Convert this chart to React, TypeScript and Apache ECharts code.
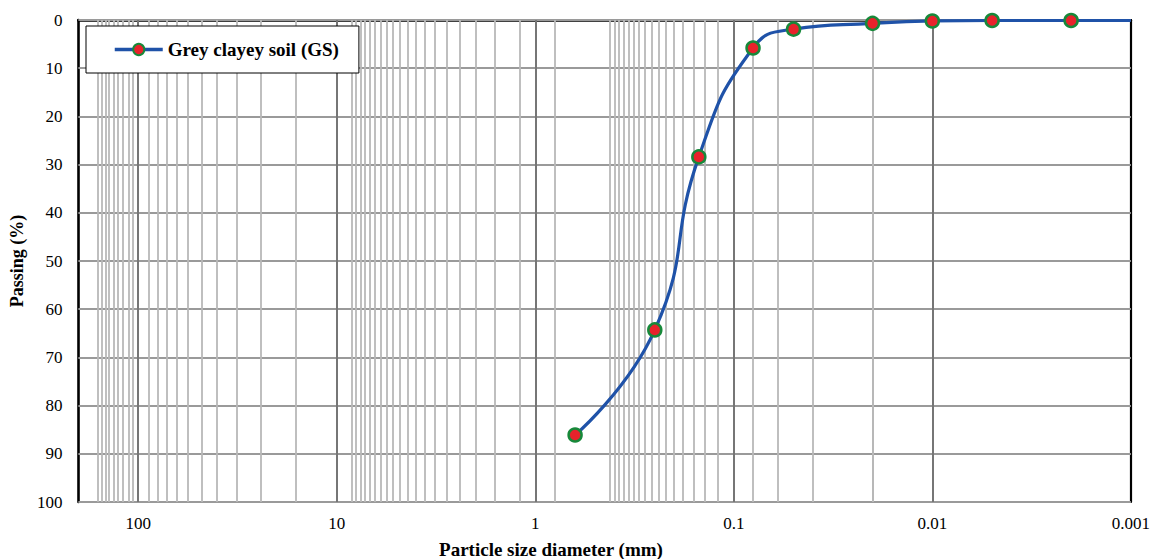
import React, { useEffect, useRef } from "react";
import * as echarts from "echarts";

// ---- data ----
const seriesName = "Grey clayey soil (GS)";
const particleSize = [0.63, 0.25, 0.15, 0.08, 0.05, 0.02, 0.01, 0.005, 0.002, 0.001];
const passing = [86.1, 64.3, 28.4, 5.8, 1.9, 0.7, 0.2, 0.1, 0.1, 0.1];
const markerShown = [true, true, true, true, true, true, true, true, true, false];

const xTickExponents = [-3, -2, -1, 0, 1, 2];
const xTickLabels = ["0.001", "0.01", "0.1", "1", "10", "100"];
const yTicks = [0, 10, 20, 30, 40, 50, 60, 70, 80, 90, 100];

// vertical gridlines (mm) as printed on the reference graph paper
const majorGridX = [100, 10, 1, 0.1, 0.01];
const minorGridX = [
  106, 112, 119, 126, 132, 140, 146, 153, 160,
  16, 24, 32, 40, 48, 56, 64, 72, 80, 88,
  1.2, 1.6, 2.0, 2.4, 2.8, 3.2, 3.6, 4.0, 4.4, 4.8, 5.2, 5.6, 6.0, 6.4, 6.8, 7.2, 7.6, 8.0, 8.4,
  0.8, 0.12, 0.14, 0.16, 0.18, 0.2, 0.22, 0.24, 0.26, 0.28, 0.3, 0.32, 0.34, 0.36, 0.38, 0.4, 0.42,
  0.08, 0.06, 0.04, 0.02, 0.019, 0.018, 0.017, 0.016, 0.015, 0.014, 0.013, 0.012, 0.011,
  0.009, 0.008, 0.007, 0.006, 0.005, 0.004, 0.003, 0.002,
];

const FONT = "'Liberation Serif', 'Times New Roman', serif";

export default function App() {
  const ref = useRef<HTMLDivElement>(null);

  useEffect(() => {
    if (!ref.current) return;
    const chart = echarts.init(ref.current, undefined, { renderer: "svg" });

    const gridLines: any[] = [];
    yTicks.forEach((v) =>
      gridLines.push({ yAxis: v, lineStyle: { color: "#9a9a9a", width: 2, type: "solid" } })
    );
    minorGridX.forEach((v) =>
      gridLines.push({ xAxis: v, lineStyle: { color: "#b8b8b8", width: 1.8, type: "solid" } })
    );
    majorGridX.forEach((v) =>
      gridLines.push({ xAxis: v, lineStyle: { color: "#767676", width: 2, type: "solid" } })
    );

    const axisCommonX = {
      type: "log",
      logBase: 10,
      min: 0.001,
      max: 200,
      inverse: true,
      axisTick: { show: false },
      splitLine: { show: false },
    };
    const axisCommonY = {
      type: "value",
      min: 0,
      max: 100,
      interval: 10,
      inverse: true,
      axisTick: { show: false },
      splitLine: { show: false },
    };

    chart.setOption({
      animation: false,
      backgroundColor: "#fff",
      grid: { left: 78, right: 15, top: 20, bottom: 57, containLabel: false },
      legend: {
        data: [seriesName],
        left: 86,
        top: 26,
        padding: [14, 20, 14, 27],
        itemWidth: 48,
        itemHeight: 14,
        backgroundColor: "#fff",
        borderColor: "#000",
        borderWidth: 1,
        borderRadius: 0,
        lineStyle: { width: 3.5, color: "#1f52a8" },
        textStyle: { fontFamily: FONT, fontWeight: "bold", fontSize: 19, color: "#000" },
        z: 6,
      },
      xAxis: [
        {
          ...axisCommonX,
          position: "bottom",
          z: 4,
          axisLine: { show: true, lineStyle: { color: "#000", width: 2.6 } },
          axisLabel: {
            show: true,
            margin: 13,
            fontFamily: FONT,
            fontSize: 17,
            color: "#000",
            formatter: (v: number) => {
              const lg = Math.log10(v);
              const k = Math.round(lg);
              if (Math.abs(lg - k) > 1e-6) return "";
              const idx = xTickExponents.indexOf(k);
              return idx >= 0 ? xTickLabels[idx] : "";
            },
          },
        },
        {
          ...axisCommonX,
          position: "top",
          z: 3,
          axisLine: { show: true, lineStyle: { color: "#000", width: 2 } },
          axisLabel: { show: false },
        },
      ],
      yAxis: [
        {
          ...axisCommonY,
          position: "left",
          z: 4,
          axisLine: { show: true, lineStyle: { color: "#000", width: 2.6 } },
          name: "Passing (%)",
          nameLocation: "middle",
          nameGap: 50,
          nameRotate: 90,
          nameTextStyle: { fontFamily: FONT, fontWeight: "bold", fontSize: 18, color: "#000" },
          axisLabel: { show: true, margin: 16, fontFamily: FONT, fontSize: 17, color: "#000" },
        },
        {
          ...axisCommonY,
          position: "right",
          z: 3,
          axisLine: { show: true, lineStyle: { color: "#000", width: 2.2 } },
          axisLabel: { show: false },
        },
      ],
      graphic: [
        {
          type: "text",
          x: 551,
          y: 549,
          style: {
            text: "Particle size diameter (mm)",
            font: `bold 19px ${FONT}`,
            fill: "#000",
            textAlign: "center",
            textVerticalAlign: "middle",
          },
        },
      ],
      series: [
        {
          name: "gridlines",
          type: "line",
          data: [],
          z: 1,
          silent: true,
          markLine: {
            silent: true,
            symbol: ["none", "none"],
            label: { show: false },
            emphasis: { disabled: true },
            animation: false,
            data: gridLines,
          },
        },
        {
          name: seriesName,
          type: "line",
          z: 5,
          smooth: true,
          symbol: "circle",
          symbolSize: 13,
          data: particleSize.map((x, i) => ({
            value: [x, passing[i]],
            symbol: markerShown[i] ? "circle" : "none",
          })),
          lineStyle: { color: "#1f52a8", width: 3.2 },
          itemStyle: { color: "#e8222b", borderColor: "#17893a", borderWidth: 2.5 },
          emphasis: { disabled: true },
        },
      ],
    });

    return () => chart.dispose();
  }, []);

  return (
    <div
      ref={ref}
      style={{ position: "fixed", left: 0, top: 0, width: 1153, height: 559, background: "#fff" }}
    />
  );
}
